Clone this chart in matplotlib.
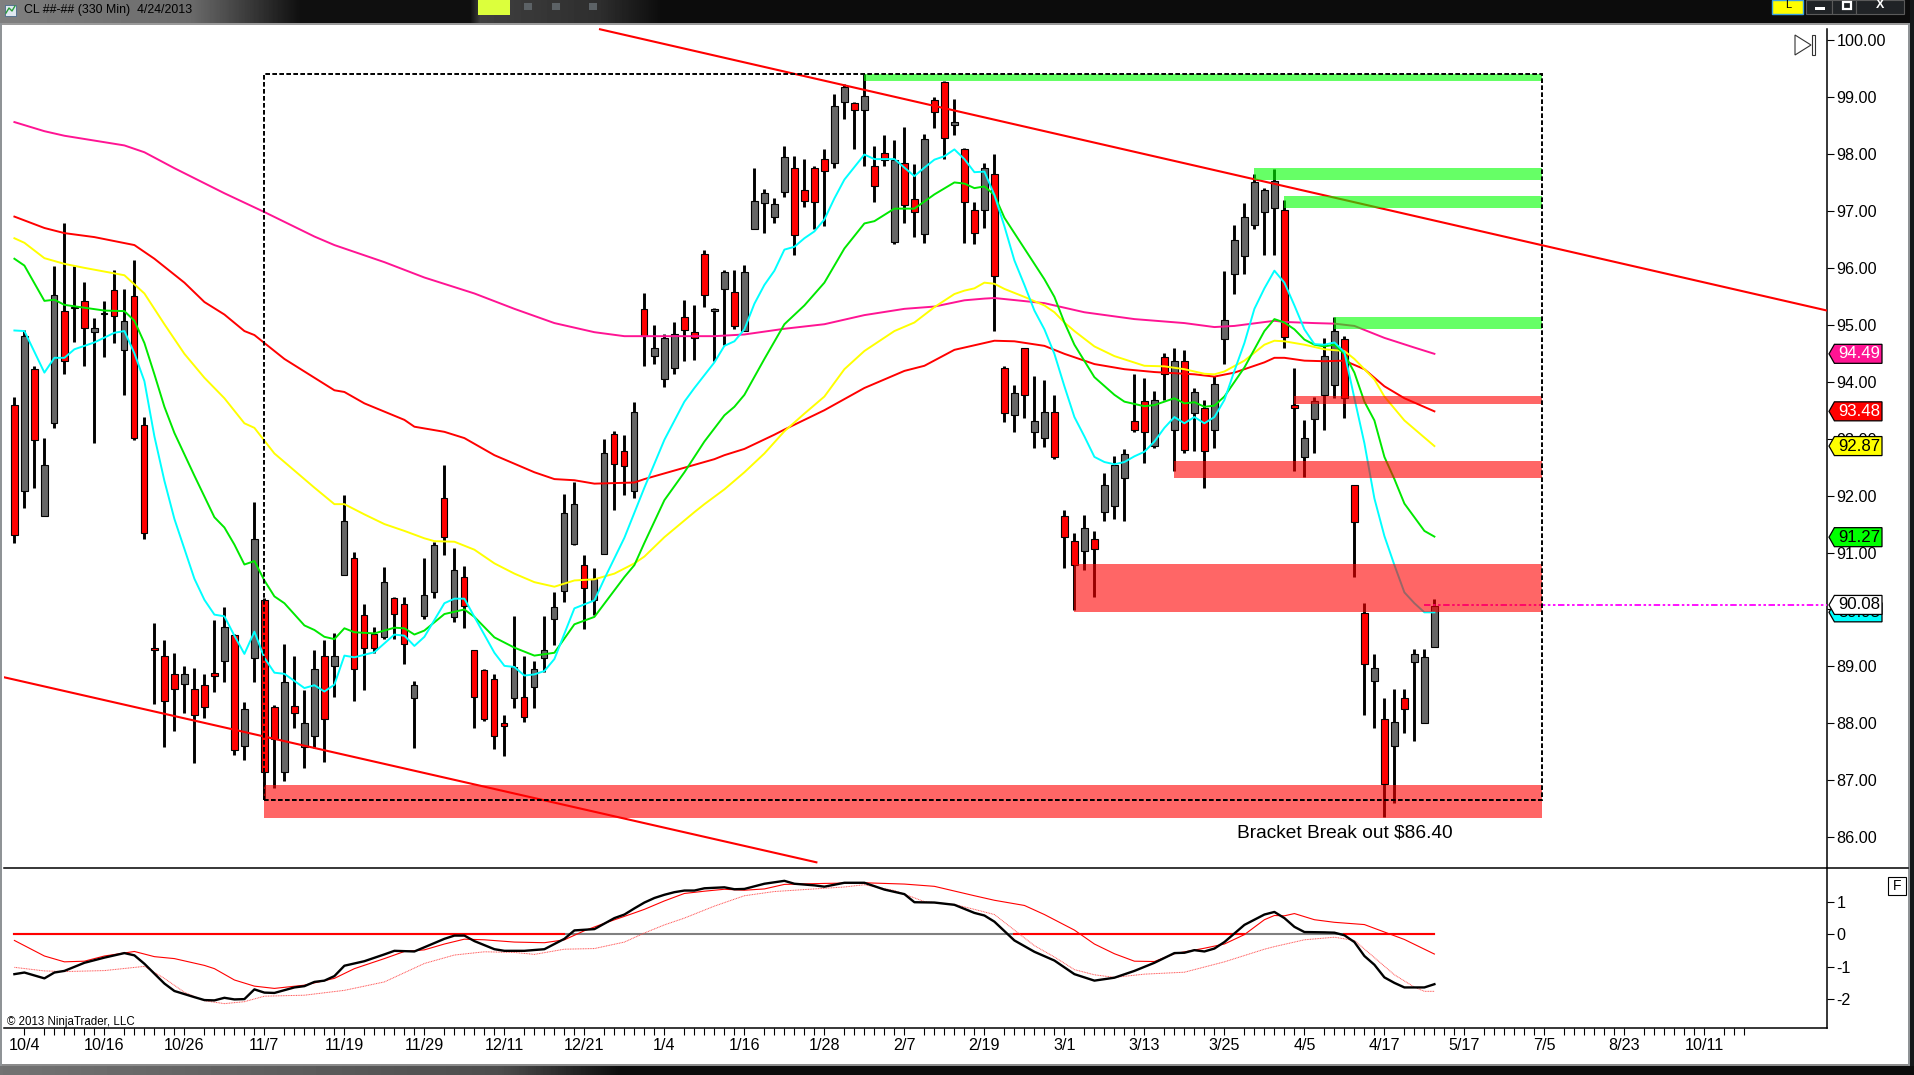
import numpy as np
import matplotlib
matplotlib.use('Agg')
import matplotlib.pyplot as plt
from matplotlib.patches import Rectangle, Polygon

plt.rcParams['font.family'] = ['Liberation Sans', 'DejaVu Sans']
plt.rcParams['axes.unicode_minus'] = False

# candles, one entry per bar
bar_high = [93.74,94.91,94.28,93.01,96.04,96.78,96.03,95.75,95.12,95.41,
            95.96,95.63,96.14,93.38,89.77,89.47,89.24,89.00,88.98,88.87,
            89.82,90.05,89.57,88.38,91.88,90.20,88.33,89.40,89.18,88.59,
            89.28,89.46,89.59,92.01,91.01,90.10,89.70,90.74,90.22,90.22,
            88.75,90.90,91.19,92.53,91.08,90.77,89.29,88.95,88.86,88.15,
            89.89,89.18,89.09,89.88,90.31,92.03,92.24,90.96,90.72,92.99,
            93.13,93.07,93.64,95.55,94.99,94.83,95.05,95.43,95.34,96.31,
            95.29,95.96,95.96,96.05,97.75,97.39,97.23,98.14,97.97,97.92,
            97.78,98.08,99.06,99.23,98.91,99.41,98.14,98.34,98.25,98.48,
            97.82,98.35,99.00,99.29,98.97,98.10,97.16,97.84,98.00,94.28,
            93.94,94.60,94.10,94.03,93.77,91.75,91.34,91.66,91.38,92.40,
            92.69,92.82,94.13,94.06,93.84,94.51,94.60,94.56,93.89,93.68,
            94.10,95.95,96.75,97.14,97.64,97.40,97.73,97.19,94.24,93.33,
            93.74,94.77,95.13,94.80,92.18,90.11,89.22,88.44,88.60,88.60,
            89.30,89.30,90.19]
bar_top = [93.59,94.80,94.22,92.53,95.52,95.24,95.32,95.41,94.94,95.21,
           95.61,95.06,95.51,93.24,89.33,89.18,88.86,88.87,88.61,88.67,
           88.88,89.70,89.55,88.26,91.23,90.16,88.28,88.72,88.30,88.01,
           88.96,89.19,89.18,91.56,90.91,89.91,89.57,90.48,90.20,90.09,
           88.67,90.25,91.14,91.95,90.69,90.57,89.28,88.93,88.78,88.00,
           88.99,88.47,88.96,89.29,90.04,91.69,91.86,90.79,90.54,92.74,
           93.09,92.79,93.47,95.27,94.60,94.77,94.83,95.13,94.87,96.24,
           95.27,95.92,95.58,95.92,97.18,97.31,97.13,97.94,97.76,97.36,
           97.76,97.92,98.84,99.18,98.89,99.01,97.78,98.02,97.90,97.85,
           97.21,98.26,98.94,99.27,98.56,98.08,97.02,97.76,97.64,94.24,
           93.80,94.59,93.31,93.47,93.47,91.65,91.20,91.43,91.24,92.18,
           92.53,92.73,93.31,93.66,93.68,94.43,94.37,94.37,93.82,93.54,
           93.96,95.08,96.49,96.90,97.51,97.36,97.52,97.02,93.60,93.01,
           93.66,94.46,94.89,94.75,92.18,89.94,88.98,88.07,88.03,88.45,
           89.21,89.16,90.07]
bar_bot = [91.30,92.08,92.97,91.64,93.28,94.36,95.30,94.94,94.87,95.19,
           95.15,94.56,93.01,91.34,89.29,88.40,88.61,88.70,88.15,88.28,
           88.84,89.09,87.54,87.60,89.15,87.14,87.72,87.14,88.18,87.58,
           87.78,88.08,89.00,90.61,88.96,89.33,89.33,89.52,89.92,89.40,
           88.45,89.89,90.31,91.27,89.86,90.07,88.47,88.07,87.78,87.96,
           88.45,88.11,88.64,89.15,89.84,90.33,91.15,90.37,90.17,90.98,
           92.56,92.52,92.08,94.80,94.46,94.04,94.24,94.91,94.77,95.52,
           95.25,95.63,94.97,94.89,96.69,97.14,96.90,97.34,96.57,97.18,
           97.16,97.70,97.85,98.91,98.77,98.77,97.43,97.90,96.46,97.10,
           96.98,96.59,98.73,98.28,98.50,97.16,96.62,97.02,95.86,93.45,
           93.42,93.77,93.12,93.01,92.68,91.28,90.79,91.02,91.06,91.72,
           91.82,92.31,93.16,93.12,92.87,94.14,93.15,92.80,93.45,92.78,
           93.15,94.75,95.89,96.21,96.76,96.98,97.05,94.78,93.54,92.67,
           93.35,93.76,93.94,93.72,91.53,89.04,88.75,86.94,87.61,88.26,
           89.07,88.00,89.35]
bar_low = [91.17,91.78,92.14,91.64,93.19,94.14,94.69,94.28,92.92,94.43,
           94.68,93.77,92.97,91.23,88.34,87.59,87.87,88.18,87.31,88.09,
           88.55,88.72,87.45,87.36,88.72,86.67,86.87,86.99,87.92,87.22,
           87.56,87.32,88.47,90.61,88.40,88.59,89.24,89.48,89.49,89.04,
           87.57,89.83,90.20,90.96,89.78,89.68,87.91,88.04,87.55,87.43,
           88.27,88.03,88.27,88.90,89.38,90.14,91.13,89.66,89.90,90.98,
           91.75,92.01,91.96,94.28,94.31,93.91,94.13,94.37,94.39,95.32,
           94.36,94.65,94.92,94.89,96.69,96.62,96.79,97.24,96.22,97.06,
           96.68,96.73,97.76,98.61,98.09,97.78,97.16,97.79,96.41,96.79,
           96.54,96.43,98.45,97.91,98.34,96.44,96.41,96.70,94.89,93.30,
           93.12,93.37,92.84,92.86,92.65,90.72,89.99,90.69,90.22,91.56,
           91.59,91.56,93.12,92.58,92.83,93.68,92.44,92.74,92.78,92.14,
           92.83,94.31,95.54,95.90,96.69,96.22,96.22,94.60,92.43,92.32,
           92.75,93.16,93.71,93.36,90.57,88.15,87.91,86.36,86.60,87.83,
           87.69,88.00,89.35]
bar_kind = ("rgrggrgrgg" "rgrrrrrgrr" "rgrggrrgrg" "grggrrrgrr" "gggrgrrrrr"
            "grgggggrgg" "rrgrgggrrr" "ggrgggggrr" "rrggrgrrgr" "rgrrgrrgrr"
            "grggrrrgrg" "ggrrgrgrgr" "gggggggrrg" "gggrrrgrgr" "ggg")

# moving averages, read at the bars listed
pink_x = [0,3,5,11,13,16,21,25,30,32,37,41,46,50,54,58,61,63,70,73,77,81,85,89,92,95,97,98,103,107,112,117,120,122,126,127,130,132,134,137,140,142]
pink_y = [98.56,98.40,98.32,98.15,98.03,97.75,97.31,96.98,96.55,96.40,96.10,95.83,95.55,95.28,95.03,94.87,94.80,94.80,94.80,94.83,94.93,95.01,95.17,95.28,95.32,95.43,95.46,95.47,95.38,95.22,95.10,95.03,94.96,94.98,95.07,95.05,95.03,95.02,94.98,94.77,94.60,94.49]

red_x = [0,3,5,8,12,14,17,19,21,23,24,27,30,32,33,35,39,40,43,45,48,52,54,56,58,62,63,66,70,71,73,76,77,81,85,89,91,94,98,100,103,105,108,111,114,118,120,122,125,126,127,129,131,133,135,137,139,142]
red_y = [96.90,96.70,96.61,96.54,96.40,96.16,95.74,95.40,95.18,94.89,94.82,94.40,94.07,93.85,93.82,93.62,93.33,93.21,93.12,93.01,92.71,92.41,92.29,92.27,92.21,92.23,92.29,92.44,92.64,92.71,92.82,93.07,93.16,93.50,93.89,94.19,94.28,94.56,94.72,94.71,94.63,94.49,94.31,94.22,94.17,94.13,94.09,94.16,94.34,94.42,94.42,94.37,94.36,94.37,94.22,93.92,93.71,93.48]

yellow_x = [0,1,3,5,7,11,13,15,17,19,21,23,24,26,30,32,33,35,37,39,41,42,44,46,48,50,52,54,56,58,60,62,63,65,68,69,71,73,75,77,79,81,83,85,88,90,92,94,95,96,97,98,99,101,103,104,105,106,108,110,113,115,117,119,120,121,123,125,126,127,129,131,133,134,136,137,139,142]
yellow_y = [96.52,96.44,96.17,96.07,96.00,95.87,95.55,95.01,94.49,94.07,93.71,93.27,93.19,92.74,92.14,91.85,91.85,91.67,91.50,91.38,91.25,91.20,91.19,91.05,90.81,90.63,90.48,90.40,90.51,90.53,90.63,90.81,90.93,91.27,91.71,91.85,92.11,92.41,92.74,93.13,93.44,93.74,94.22,94.54,94.89,95.04,95.31,95.54,95.60,95.64,95.74,95.72,95.63,95.49,95.34,95.22,95.04,94.89,94.62,94.45,94.28,94.27,94.22,94.14,94.13,94.18,94.37,94.65,94.72,94.71,94.65,94.57,94.54,94.40,94.04,93.74,93.32,92.87]

green_x = [0,1,3,4,5,7,9,11,12,13,14,15,16,18,20,21,22,23,24,25,26,27,29,30,31,32,33,34,36,38,39,40,41,43,45,46,48,50,52,54,56,58,61,62,63,65,67,69,71,72,73,75,77,79,81,83,85,86,88,90,92,94,95,96,97,98,99,101,103,104,105,106,108,110,111,113,114,116,117,118,119,120,121,123,125,126,127,128,129,130,131,132,133,134,135,136,137,138,139,141,142]
green_y = [96.16,96.04,95.42,95.44,95.35,95.30,95.25,95.24,95.07,94.68,94.13,93.56,93.10,92.35,91.62,91.44,91.14,90.79,90.85,90.51,90.23,90.11,89.72,89.64,89.52,89.48,89.67,89.60,89.58,89.68,89.67,89.56,89.63,89.92,90.00,89.87,89.51,89.33,89.19,89.24,89.74,89.87,90.57,90.78,91.17,91.92,92.41,92.95,93.41,93.56,93.77,94.40,95.01,95.34,95.74,96.34,96.78,96.82,97.04,97.04,97.29,97.50,97.48,97.40,97.43,97.28,96.88,96.34,95.80,95.49,95.04,94.65,94.08,93.77,93.65,93.57,93.59,93.71,93.62,93.64,93.56,93.58,93.74,94.25,94.89,95.10,95.04,94.92,94.74,94.65,94.62,94.65,94.49,94.16,93.65,93.32,92.68,92.29,91.86,91.38,91.28]

cyan_x = [0,1,3,4,5,6,8,10,11,12,13,14,15,16,18,19,20,21,22,23,24,25,26,27,29,30,31,32,33,34,36,38,39,40,41,43,44,45,46,48,49,50,51,52,53,54,56,58,59,61,63,65,67,68,70,71,72,73,74,75,76,77,78,79,80,81,82,83,85,86,88,89,90,91,92,93,94,95,96,97,98,99,100,101,102,103,104,105,106,107,108,109,110,111,112,113,114,115,116,117,118,119,120,121,122,123,124,125,126,127,128,129,130,131,132,133,134,135,136,137,138,139,140,141,142]
cyan_y = [94.90,94.89,94.16,94.42,94.42,94.57,94.69,94.86,94.89,94.50,94.01,93.04,92.26,91.59,90.54,90.17,89.91,89.88,89.54,89.22,89.61,89.15,88.89,88.87,88.62,88.67,88.56,88.68,89.19,89.16,89.25,89.56,89.54,89.36,89.52,90.11,90.19,90.19,89.87,89.24,89.01,88.99,88.84,88.86,88.92,89.13,90.02,90.16,90.54,91.26,92.14,92.98,93.65,93.89,94.34,94.63,94.71,94.92,95.37,95.70,95.95,96.32,96.37,96.52,96.64,96.85,97.22,97.55,97.99,97.91,97.91,97.76,97.61,97.76,97.90,97.96,98.08,97.91,97.68,97.69,97.28,96.73,96.13,95.70,95.25,94.92,94.49,93.92,93.38,93.04,92.68,92.59,92.55,92.59,92.69,92.77,92.95,93.19,93.38,93.27,93.38,93.27,93.38,93.68,94.19,94.68,95.28,95.64,95.95,95.74,95.34,94.92,94.66,94.65,94.69,94.52,93.71,92.92,91.95,91.29,90.78,90.30,90.11,89.95,89.95]

# indicator panel
macd_x = [0,1,3,4,5,7,9,11,12,13,15,16,18,19,20,21,22,23,24,25,26,28,29,30,31,32,33,35,37,38,40,41,43,44,45,46,48,49,51,53,55,56,58,60,61,62,63,64,65,66,67,68,69,71,72,73,75,77,78,80,81,83,85,87,89,90,92,94,96,97,98,100,102,104,106,108,110,112,114,116,117,118,119,120,121,123,125,126,127,128,129,131,132,133,134,135,136,137,138,139,141,142]
macd_y = [-1.23,-1.18,-1.36,-1.18,-1.13,-0.88,-0.72,-0.58,-0.65,-0.91,-1.52,-1.75,-1.94,-2.03,-2.04,-1.96,-2.01,-2.00,-1.70,-1.80,-1.81,-1.64,-1.60,-1.47,-1.43,-1.29,-0.97,-0.83,-0.62,-0.51,-0.53,-0.40,-0.14,-0.04,-0.04,-0.21,-0.46,-0.51,-0.51,-0.46,-0.14,0.12,0.16,0.50,0.61,0.80,0.98,1.12,1.22,1.30,1.35,1.35,1.42,1.45,1.39,1.40,1.56,1.65,1.56,1.51,1.47,1.59,1.59,1.38,1.24,0.99,0.98,0.91,0.66,0.58,0.39,-0.19,-0.54,-0.81,-1.23,-1.43,-1.34,-1.13,-0.88,-0.58,-0.57,-0.49,-0.53,-0.44,-0.24,0.29,0.61,0.69,0.50,0.23,0.07,0.06,0.05,-0.03,-0.24,-0.67,-0.94,-1.33,-1.50,-1.64,-1.64,-1.54]
signal_x = [0,1,3,5,7,9,12,14,16,19,20,22,24,26,29,31,32,34,37,39,41,43,45,47,50,53,55,57,59,62,63,65,67,69,71,73,75,77,81,85,89,92,96,98,101,103,106,108,110,112,114,116,119,121,123,125,126,127,128,130,132,135,137,139,141,142]
signal_y = [-0.19,-0.35,-0.67,-0.85,-0.83,-0.67,-0.53,-0.69,-0.75,-0.96,-1.06,-1.41,-1.60,-1.67,-1.57,-1.43,-1.36,-1.06,-0.75,-0.53,-0.48,-0.30,-0.15,-0.17,-0.24,-0.26,-0.17,0.11,0.34,0.66,0.77,1.03,1.26,1.33,1.39,1.36,1.40,1.54,1.57,1.59,1.55,1.48,1.19,1.05,0.89,0.61,0.13,-0.30,-0.60,-0.83,-0.84,-0.60,-0.43,-0.30,-0.01,0.45,0.58,0.57,0.64,0.45,0.37,0.30,0.07,-0.16,-0.46,-0.61]
slow_x = [0,3,5,9,13,15,17,19,21,23,25,29,33,37,41,44,47,50,52,55,58,61,63,65,67,70,73,76,80,83,85,88,91,94,96,98,100,102,104,106,108,110,113,117,121,125,126,129,132,134,136,138,140,141,142]
slow_y = [-1.02,-1.13,-1.15,-1.12,-0.99,-1.36,-1.79,-2.05,-2.14,-2.08,-1.91,-1.88,-1.73,-1.47,-0.90,-0.64,-0.54,-0.56,-0.62,-0.46,-0.44,-0.24,0.04,0.29,0.50,0.87,1.19,1.32,1.40,1.46,1.53,1.35,1.01,0.92,0.77,0.61,0.13,-0.35,-0.70,-1.09,-1.25,-1.33,-1.23,-1.17,-0.85,-0.46,-0.38,-0.17,-0.09,-0.19,-0.72,-1.25,-1.63,-1.76,-1.76]
zero_red_spans = [(0, 55), (100, 123), (133, 142)]

# drawn objects on the price panel
green_zones = [(85, 99.29, 99.41), (124, 97.54, 97.76), (127, 97.05, 97.27), (132, 94.93, 95.14)]
red_zones = [(128, 93.61, 93.75), (116, 92.31, 92.61), (106, 89.96, 90.80), (25, 86.33, 86.91)]
zone_end = 152.8
bracket = (25, 86.65, 152.8, 99.41)
upper_trend = ([58.56, 181.26], [100.19, 95.25])
lower_trend = ([-1.04, 80.2], [88.81, 85.56])
last_price = 90.08
tag_prices = [94.49, 93.48, 92.87, 91.27, 89.95, 90.08]
tag_fill = ['#ff1493', '#ff0000', '#ffff00', '#00ff00', '#00ffff', '#ffffff']
tag_text = ['white', 'white', 'black', 'black', 'black', 'black']

price_ticks = [86, 87, 88, 89, 90, 91, 92, 93, 94, 95, 96, 97, 98, 99, 100]
ind_ticks = [-2, -1, 0, 1]
date_idx = [1, 9, 17, 25, 33, 41, 49, 57, 65, 73, 81, 89, 97, 105, 113, 121, 129, 137, 145, 153, 161, 169]
date_labels = ['10/4', '10/16', '10/26', '11/7', '11/19', '11/29', '12/11', '12/21', '1/4', '1/16', '1/28',
               '2/7', '2/19', '3/1', '3/13', '3/25', '4/5', '4/17', '5/17', '7/5', '8/23', '10/11']

W, H = 1915, 1075
fig = plt.figure(figsize=(W / 100, H / 100), dpi=100, facecolor='white')

# window frame, in pixels
chrome = fig.add_axes([0, 0, 1, 1], zorder=0)
chrome.axis('off')
xs = np.arange(W)
title_grad = np.interp(xs, [0, 190, 300, 470, 480, 600, 660, 1915], [.5, .42, .06, .06, .25, .18, .05, .05])
chrome.imshow(title_grad[None, :], cmap='gray', vmin=0, vmax=1, extent=(0, W, 23, 0), aspect='auto')
foot_grad = np.interp(xs, [0, 500, 620, 1915], [.45, .3, .05, .05])
chrome.imshow(foot_grad[None, :], cmap='gray', vmin=0, vmax=1, extent=(0, W, H, 1066), aspect='auto')
chrome.set_xlim(0, W)
chrome.set_ylim(H, 0)
chrome.add_patch(Rectangle((0, 22.5), W, 2, color='#9a9a9a', lw=0))
chrome.add_patch(Rectangle((0, 1064), W, 2, color='#8c8c8c', lw=0))
chrome.add_patch(Rectangle((0, 23), 2.5, 1043, color='#8f9396', lw=0))
chrome.add_patch(Rectangle((1908, 23), 2, 1043, color='#8f9396', lw=0))
chrome.add_patch(Rectangle((1910, 0), 5, 1066, color='#15181a', lw=0))
chrome.add_patch(Rectangle((478, 0), 32, 15, color='#dcff3c', lw=0))
for blob_x in [524, 552, 589]:
    chrome.add_patch(Rectangle((blob_x, 3), 8, 7, color='#5c6266', lw=0))
chrome.add_patch(Rectangle((1772, 0), 31, 14, facecolor='#ffff00', edgecolor='#3aa0e0', lw=1))
chrome.add_patch(Rectangle((1806, 0), 26, 14, facecolor='#202326', edgecolor='#5a5a5a', lw=0.8))
chrome.add_patch(Rectangle((1832, 0), 24, 14, facecolor='#202326', edgecolor='#5a5a5a', lw=0.8))
chrome.add_patch(Rectangle((1856, 0), 48, 14, facecolor='#202326', edgecolor='#5a5a5a', lw=0.8))
chrome.add_patch(Rectangle((1815, 7), 10, 3, color='white', lw=0))
chrome.add_patch(Rectangle((1843, 2), 8, 7, facecolor='none', edgecolor='white', lw=1.6))
chrome.text(1880, 5, 'X', color='white', fontsize=9, fontweight='bold', ha='center', va='center')
chrome.text(1788, 5, 'L', color='black', fontsize=8, ha='center', va='center')
chrome.text(24, 10, 'CL ##-## (330 Min)  4/24/2013', color='black', fontsize=8.9, ha='left', va='center')
chrome.add_patch(Rectangle((5, 5), 11, 11, facecolor='#dfe8f0', edgecolor='#4a6a8a', lw=0.6))
chrome.plot([6, 9, 12, 15], [13, 8, 11, 6], color='#2a9a3a', lw=1)
# go-to-end arrow and F button
chrome.add_patch(Polygon([(1795, 35), (1811, 45), (1795, 55)], fill=False, edgecolor='#333333', lw=0.8))
chrome.add_patch(Rectangle((1812.5, 34.5), 3, 20, fill=False, edgecolor='#333333', lw=0.8))
chrome.add_patch(Rectangle((1888.5, 877), 17.5, 17.5, fill=False, edgecolor='black', lw=0.8))
chrome.text(1897, 886, 'F', fontsize=10, ha='center', va='center')
chrome.plot([4, 1908], [868, 868], color='black', lw=1.1)

# price panel
ax = fig.add_axes([4 / W, 1 - 868 / H, 1823 / W, 845 / H], zorder=2)
ax.patch.set_alpha(0)
x_lim = (-1.04, 181.26)
ax.set_xlim(x_lim)
ax.set_ylim(85.46, 100.30)
n = np.arange(len(bar_high))
ax.vlines(n, bar_low, bar_high, colors='black', lw=2.1, zorder=2)
body_col = ['#ff0000' if k == 'r' else '#666666' for k in bar_kind]
ax.bar(n, np.array(bar_top) - np.array(bar_bot), bottom=bar_bot, width=0.62, color=body_col,
       edgecolor='black', lw=0.8, zorder=2.2)

ax.plot(pink_x, pink_y, color='#ff1493', lw=1.4, zorder=3)
ax.plot(red_x, red_y, color='#ff0000', lw=1.4, zorder=3)
ax.plot(yellow_x, yellow_y, color='#ffff00', lw=1.4, zorder=3)
ax.plot(green_x, green_y, color='#00e800', lw=1.4, zorder=3)
ax.plot(cyan_x, cyan_y, color='#00ffff', lw=1.4, zorder=3)
ax.plot(upper_trend[0], upper_trend[1], color='#ff0000', lw=1.5, zorder=3)
ax.plot(lower_trend[0], lower_trend[1], color='#ff0000', lw=1.5, zorder=3)
ax.plot([141, x_lim[1]], [last_price, last_price], color='#ff00ff', lw=1.3, zorder=3,
        dashes=(3.6, 1.4, 1.4, 1.4, 1.4, 1.4), dash_capstyle='butt')

for start, low, high in green_zones:
    ax.add_patch(Rectangle((start, low), zone_end - start, high - low, facecolor='#00ff00', alpha=0.6, lw=0, zorder=4))
for start, low, high in red_zones:
    ax.add_patch(Rectangle((start, low), zone_end - start, high - low, facecolor='#ff0000', alpha=0.6, lw=0, zorder=4))
ax.add_patch(Rectangle((bracket[0], bracket[1]), bracket[2] - bracket[0], bracket[3] - bracket[1], fill=False,
                       edgecolor='black', lw=1.4, ls=(0, (2.4, 1.2)), zorder=5))
ax.text(122.3, 86.08, 'Bracket Break out $86.40', fontsize=13.8, ha='left', va='center', zorder=6)

for s in ['top', 'left', 'bottom']:
    ax.spines[s].set_visible(False)
ax.spines['right'].set_bounds(85.46, 100.2)
ax.spines['right'].set_linewidth(1.1)
ax.yaxis.tick_right()
ax.set_yticks(price_ticks)
ax.set_yticklabels(['%.2f' % p for p in price_ticks], fontsize=11.6)
ax.tick_params(axis='y', length=5, width=0.8, pad=1.8)
ax.set_xticks([])

# price tags past the axis, x in bar units; later tags lie over earlier ones
tip, neck, tag_end = 181.46, 182.0, 186.76
half = 9.5 / 56.93
for k, (price, fill, txt) in enumerate(zip(tag_prices, tag_fill, tag_text)):
    pts = [(tip, price), (neck, price + half), (tag_end, price + half), (tag_end, price - half), (neck, price - half)]
    ax.add_patch(Polygon(pts, facecolor=fill, edgecolor='black', lw=0.9, clip_on=False, zorder=10 + 2 * k))
    ax.text(184.5, price, '%.2f' % price, color=txt, fontsize=12.2, ha='center', va='center',
            clip_on=False, zorder=11 + 2 * k)

# indicator panel
ax2 = fig.add_axes([4 / W, 1 - 1028 / H, 1823 / W, 160 / H], zorder=1)
ax2.patch.set_alpha(0)
ax2.set_xlim(x_lim)
ax2.set_ylim(-2.892, 2.046)
ax2.plot([0, 142], [0, 0], color='#808080', lw=1.5, zorder=2)
for a, b in zero_red_spans:
    ax2.plot([a, b], [0, 0], color='#ff0000', lw=1.5, zorder=2.1)
ax2.plot(slow_x, slow_y, color='#ff5050', lw=0.7, ls=(0, (1, 0.7)), zorder=3)
ax2.plot(signal_x, signal_y, color='#ff0000', lw=0.8, zorder=3)
ax2.plot(macd_x, macd_y, color='black', lw=1.7, zorder=4)
ax2.text(-0.75, -2.72, '\u00a9 2013 NinjaTrader, LLC', fontsize=8.3, ha='left', va='center')

for s in ['top', 'left']:
    ax2.spines[s].set_visible(False)
ax2.spines['right'].set_linewidth(1.1)
ax2.spines['bottom'].set_linewidth(1.1)
ax2.yaxis.tick_right()
ax2.set_yticks(ind_ticks)
ax2.set_yticklabels([str(t) for t in ind_ticks], fontsize=11.6)
ax2.tick_params(axis='y', length=5, width=0.8, pad=1.8)
# tick on every bar except the one right after each labelled bar
minor = [i for i in range(1, 174) if i % 8 != 2 and i not in date_idx]
ax2.set_xticks(date_idx)
ax2.set_xticklabels(date_labels, fontsize=11.6)
ax2.set_xticks(minor, minor=True)
ax2.tick_params(axis='x', which='both', length=5, width=0.8, pad=2.2)

fig.savefig('out.png', dpi=100)
